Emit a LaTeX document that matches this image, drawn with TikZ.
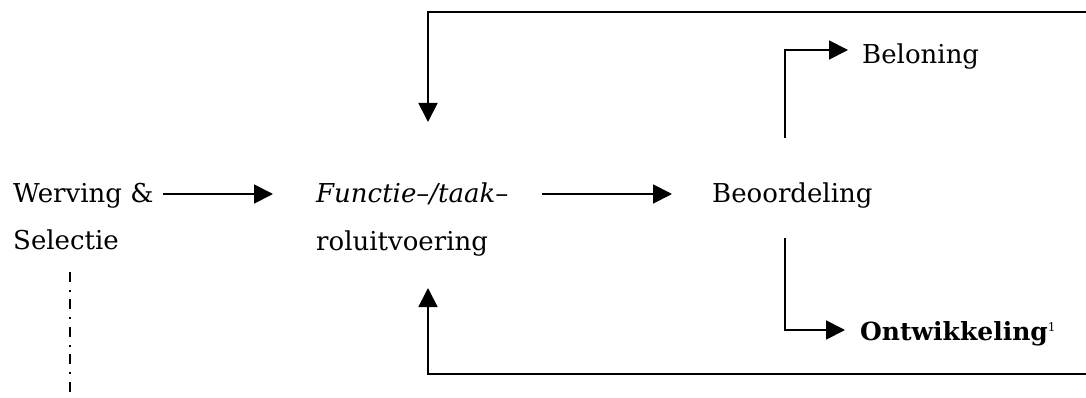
\documentclass[tikz,border=0pt]{standalone}
\usepackage{fontspec}
\setmainfont{DejaVu Serif}
\usetikzlibrary{arrows.meta,calc}
\begin{document}
\begin{tikzpicture}[x=1pt,y=-1pt,
  lbl/.style={inner sep=0pt, anchor=base west, font=\fontsize{26}{30}\selectfont},
  arr/.style={line width=1.8pt, -{Triangle[length=19pt,width=19pt]}},
  dashdot/.style={line width=1.6pt, dash pattern=on 10pt off 7.7pt on 2pt off 7.7pt}]
\useasboundingbox (0,0) rectangle (1086,398);
\node[lbl] (ws1) at (13,202) {Werving \&};
\node[lbl] (ws2) at (13,249) {Selectie};
\node[lbl] (fn1) at (316,203) {\itshape Functie–/taak–};
\node[lbl] (fn2) at (316,250) {roluitvoering};
\node[lbl] (bo) at (712,203) {Beoordeling};
\node[lbl] (bl) at (862,64) {Beloning};
\node[lbl, font=\fontsize{25}{30}\selectfont\bfseries] (on) at (860,340) {Ontwikkeling\raisebox{9pt}{\fontsize{12}{12}\selectfont\mdseries 1}};
\coordinate (tr) at (1086,12);
\coordinate (br) at (1086,374);
\coordinate (db) at (70,398);
\draw[arr] ($(ws1.base west)+(150,-8)$) -- ($(fn1.base west)+(-43,-9)$);
\draw[arr] ($(fn1.base west)+(226,-9)$) -- ($(bo.base west)+(-40,-9)$);
\draw[arr] ($(bo.base west)+(73,-65)$) |- ($(bl.base west)+(-14,-14)$);
\draw[arr] ($(bo.base west)+(73,35)$) |- ($(on.base west)+(-15,-10)$);
\draw[arr] (tr) -| ($(fn1.base west)+(112,-81)$);
\draw[arr] (br) -| ($(fn2.base west)+(112,38)$);
\draw[dashdot] ($(ws2.base west)+(57,23)$) -- (db);
\end{tikzpicture}
\end{document}
